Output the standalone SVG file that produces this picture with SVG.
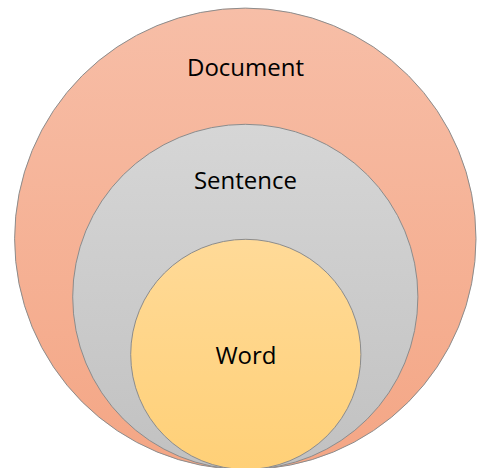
<svg xmlns="http://www.w3.org/2000/svg" width="483" height="468" viewBox="0 0 483 468">
  <defs>
    <linearGradient id="gDoc" x1="0" y1="0" x2="0" y2="1">
      <stop offset="0" stop-color="#F7BEA7"/>
      <stop offset="1" stop-color="#F4A685"/>
    </linearGradient>
    <linearGradient id="gSent" x1="0" y1="0" x2="0" y2="1">
      <stop offset="0" stop-color="#D6D6D6"/>
      <stop offset="1" stop-color="#C1C1C1"/>
    </linearGradient>
    <linearGradient id="gWord" x1="0" y1="0" x2="0" y2="1">
      <stop offset="0" stop-color="#FFDA98"/>
      <stop offset="1" stop-color="#FFD077"/>
    </linearGradient>
  </defs>
  <style>
    .ring { stroke: #8C8C8C; stroke-width: 1; }
    .label { font-family: "Open Sans", "Liberation Sans", sans-serif; font-size: 24px; fill: #000; text-anchor: middle; }
  </style>
  <rect width="483" height="468" fill="#FFFFFF"/>
  <g id="document">
    <circle class="ring" cx="245.3" cy="238.8" r="230.7" fill="url(#gDoc)"/>
    <text class="label" x="245.5" y="76">Document</text>
  </g>
  <g id="sentence">
    <circle class="ring" cx="245.3" cy="296.9" r="172.6" fill="url(#gSent)"/>
    <text class="label" x="245.5" y="189">Sentence</text>
  </g>
  <g id="word">
    <circle class="ring" cx="245.8" cy="354.4" r="115.1" fill="url(#gWord)"/>
    <text class="label" x="246" y="364">Word</text>
  </g>
  <g id="connectors"/>
</svg>
